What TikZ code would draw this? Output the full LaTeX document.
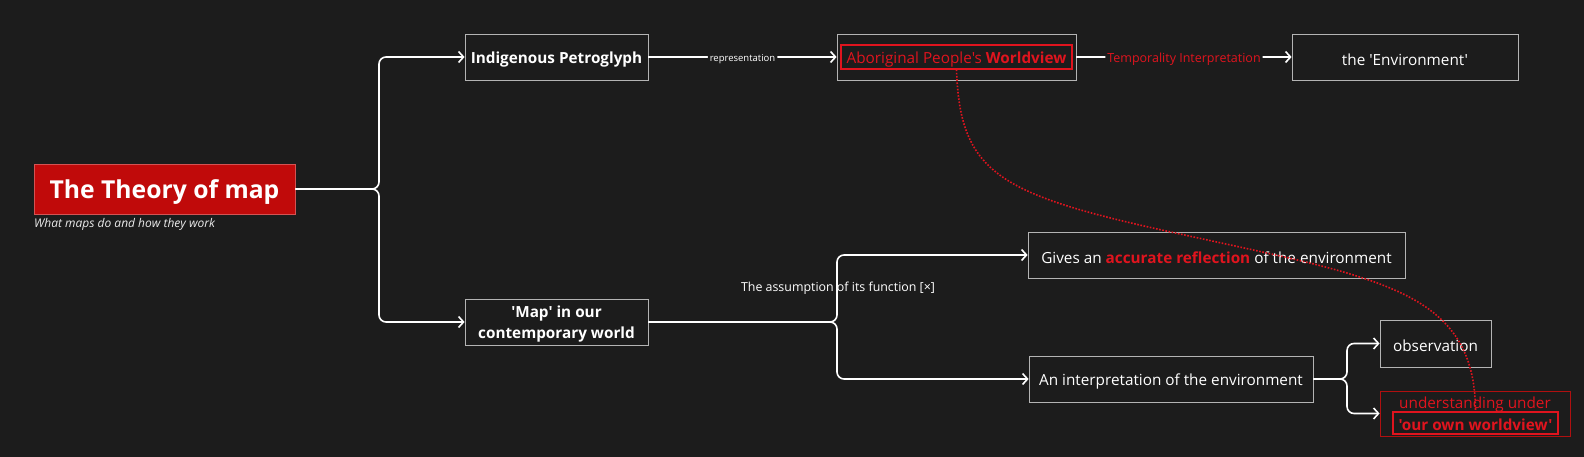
\documentclass[tikz,border=0pt]{standalone}
\usepackage{fontspec}
\setmainfont{Open Sans}[Ligatures=TeXOff]
\usetikzlibrary{arrows.meta,calc}
\definecolor{bg}{HTML}{1C1C1C}
\definecolor{boxline}{HTML}{B4B4B4}
\definecolor{rootred}{HTML}{C00A0A}
\definecolor{txtred}{HTML}{E0141E}
\definecolor{dimred}{HTML}{B01010}
\newcommand\vsp[1]{\rule{0pt}{#1}}
\tikzset{
  box/.style={draw=boxline, line width=0.8pt, fill=bg, text=white, font=\fontsize{15.3}{19}\selectfont, align=center, inner sep=0pt},
  redbox/.style={draw=txtred, line width=1.2pt, text=txtred, font=\fontsize{15.3}{19}\selectfont, inner sep=0pt},
  br/.style={draw=white, line width=1.6pt, rounded corners=7pt, -{Straight Barb[length=5pt,width=11pt,line width=1.6pt]}},
  elabel/.style={fill=bg, inner sep=2pt},
}
\begin{document}
\begin{tikzpicture}[x=1pt,y=-1pt]
\fill[bg] (0,0) rectangle (1584,457);
\useasboundingbox (0,0) rectangle (1584,457);

% root
\node[fill=rootred, draw=rootred!70!white, line width=0.6pt, text=white, minimum width=261pt, minimum height=50pt, inner sep=0pt,
  font=\fontsize{24.7}{28}\selectfont\bfseries] (root) at (164.5,189) {\vsp{25pt}The Theory of map};
\node[anchor=west, text=white!92!black, inner sep=0pt, font=\fontsize{12}{14}\selectfont\itshape] (sub) at (34,224) {What maps do and how they work};

% first level
\node[box, minimum width=183pt, minimum height=46pt, font=\fontsize{15.3}{21}\selectfont\bfseries] (indig) at (556.5,57) {\vsp{16.3pt}Indigenous Petroglyph};
\node[box, minimum width=183pt, minimum height=46pt, font=\fontsize{15.3}{21}\selectfont\bfseries] (mapn) at (556.5,322) {\vsp{16.3pt}'Map' in our\\contemporary world};

% aboriginal worldview
\node[box, minimum width=239pt, minimum height=46pt] (abor) at (956.5,57) {};
\node[redbox, minimum width=231pt, minimum height=24pt] (aborin) at (956.5,57) {\vsp{16pt}Aboriginal People's \textbf{Worldview}};

\node[box, minimum width=226pt, minimum height=46pt] (env) at (1405,57) {\vsp{16.3pt}the 'Environment'};

% second branch
\node[box, minimum width=377pt, minimum height=46pt] (gives) at (1216.5,255) {\vsp{16.3pt}Gives an \textcolor{txtred}{\textbf{accurate reflection}} of the environment};
\node[box, minimum width=284pt, minimum height=46pt] (interp) at (1171,379) {\vsp{16.3pt}An interpretation of the environment};

% third branch
\node[box, minimum width=111pt, minimum height=47pt] (obs) at (1435.5,343.5) {\vsp{16.3pt}observation};
\node[draw=dimred, line width=0.8pt, fill=bg, minimum width=190pt, minimum height=45pt, inner sep=0pt] (und) at (1475,413.5) {};
\node[text=txtred, inner sep=0pt, font=\fontsize{15.3}{19}\selectfont] (undtxt) at (1475,405) {understanding under};
\node[redbox, minimum width=165pt, minimum height=22pt, font=\fontsize{15.3}{19}\selectfont\bfseries] (undin) at (1475.5,423) {\vsp{15pt}'our own worldview'};

% connectors
\draw[br] (root.east) -- (379,189) |- (indig.west);
\draw[br] (root.east) -- (379,189) |- (mapn.west);

\draw[br] (indig.east) -- node[elabel, text=white, font=\fontsize{9.5}{11}\selectfont] (replab) {\vsp{10.5pt}representation} (abor.west);
\draw[br] (abor.east) -- node[elabel, text=txtred, font=\fontsize{12.5}{14}\selectfont] (templab) {\vsp{13.5pt}Temporality Interpretation} (env.west);

\draw[br] (mapn.east) -- (837,322) |- (gives.west);
\draw[br] (mapn.east) -- (837,322) |- (interp.west);
\node[text=white, font=\fontsize{12.4}{14}\selectfont, inner sep=0pt] (assum) at (838,288) {The assumption of its function [×]};

\draw[br] (interp.east) -- (1347,379) |- (obs.west);
\draw[br] (interp.east) -- (1347,379) |- (und.west);

% dotted relation
\coordinate (bend) at (1180,234);
\draw[txtred, line width=1.6pt, dash pattern=on 1.6pt off 1.6pt] (aborin.south) .. controls (960,175) and (1000,195) .. (bend)
   .. controls (1380,278) and (1475,290) .. (undin.north);
\end{tikzpicture}
\end{document}
